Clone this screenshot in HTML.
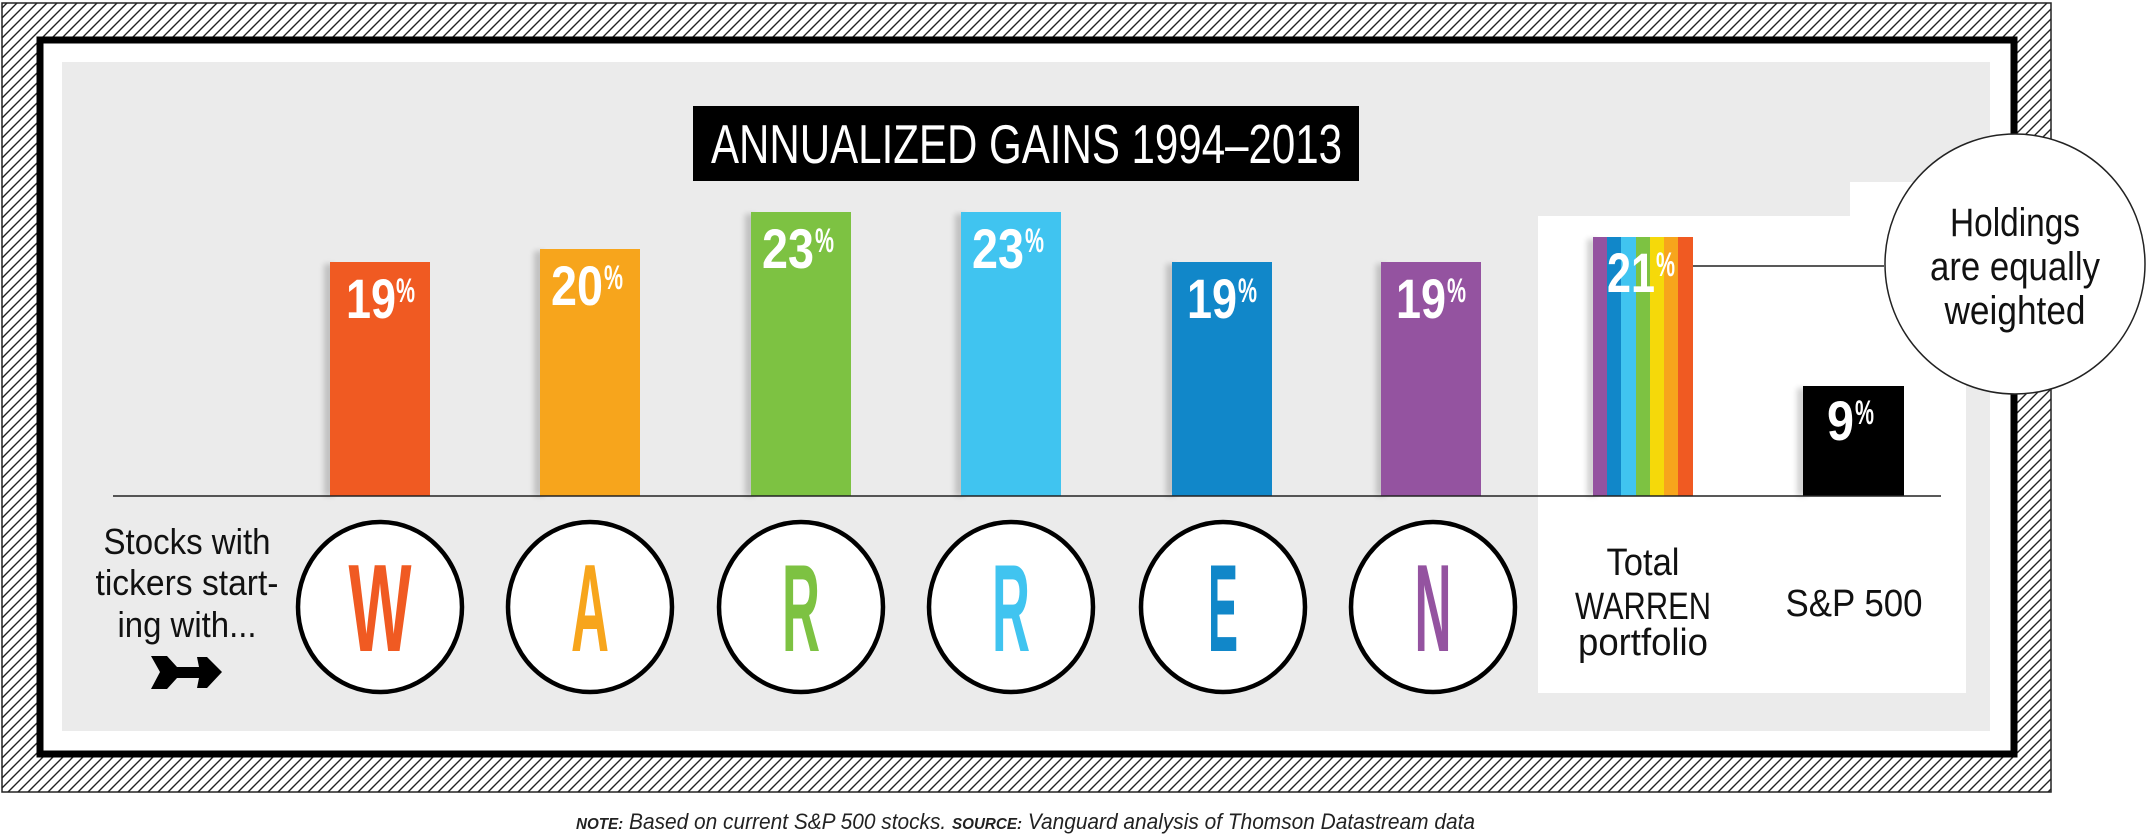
<!DOCTYPE html>
<html><head><meta charset="utf-8"><style>
html,body{margin:0;padding:0;background:#fff;}
svg{display:block;}
text{font-family:"Liberation Sans Narrow","Liberation Sans",sans-serif;}
</style></head><body>
<svg width="2149" height="836" viewBox="0 0 2149 836" xmlns="http://www.w3.org/2000/svg">
<defs>
<pattern id="h" patternUnits="userSpaceOnUse" width="10" height="10">
<path d="M-2,12 L12,-2 M-5,5 L5,-5 M5,15 L15,5" stroke="#222" stroke-width="1.4"/>
</pattern>
<filter id="sh" x="-20%" y="-5%" width="140%" height="110%"><feGaussianBlur stdDeviation="3"/></filter>
</defs>
<rect x="2" y="3" width="2049" height="789" fill="url(#h)" stroke="#222" stroke-width="1.5"/>
<rect x="40" y="40" width="1974" height="714" fill="#fff" stroke="#000" stroke-width="7"/>
<rect x="62" y="62" width="1928" height="669" fill="#ebebeb"/>
<rect x="1850" y="182" width="142" height="174" fill="#fff"/>
<rect x="1538" y="216" width="428" height="477" fill="#fff"/>
<!-- title -->
<rect x="693" y="106" width="666" height="75" fill="#000"/>
<text x="711" y="163" font-size="55" fill="#fff" textLength="631" lengthAdjust="spacingAndGlyphs">ANNUALIZED GAINS 1994–2013</text>
<!-- shadows -->
<g fill="#000" opacity="0.18" filter="url(#sh)">
<rect x="324" y="264" width="10" height="232"/><rect x="534" y="251" width="10" height="245"/>
<rect x="745" y="214" width="10" height="282"/><rect x="955" y="214" width="10" height="282"/>
<rect x="1166" y="264" width="10" height="232"/><rect x="1376" y="264" width="10" height="232"/>
<rect x="1587" y="239" width="10" height="257"/><rect x="1797" y="388" width="10" height="108"/>
</g>
<!-- bars -->
<rect x="330" y="262" width="100" height="234" fill="#f05a22"/>
<rect x="540" y="249" width="100" height="247" fill="#f7a51c"/>
<rect x="751" y="212" width="100" height="284" fill="#7dc242"/>
<rect x="961" y="212" width="100" height="284" fill="#40c4f0"/>
<rect x="1172" y="262" width="100" height="234" fill="#1187c9"/>
<rect x="1381" y="262" width="100" height="234" fill="#9453a0"/>
<g>
<rect x="1593" y="237" width="15" height="259" fill="#9453a0"/>
<rect x="1607" y="237" width="15" height="259" fill="#1187c9"/>
<rect x="1621" y="237" width="15" height="259" fill="#40c4f0"/>
<rect x="1636" y="237" width="15" height="259" fill="#7dc242"/>
<rect x="1650" y="237" width="15" height="259" fill="#f5d90a"/>
<rect x="1664" y="237" width="15" height="259" fill="#f7a51c"/>
<rect x="1678" y="237" width="15" height="259" fill="#f05a22"/>
</g>
<rect x="1803" y="386" width="101" height="110" fill="#000"/>
<!-- labels -->
<g fill="#fff" font-weight="bold">
<text x="346" y="318" font-size="56" textLength="50" lengthAdjust="spacingAndGlyphs">19</text><text x="396" y="302" font-size="34" textLength="19" lengthAdjust="spacingAndGlyphs">%</text>
<text x="551" y="305" font-size="56" textLength="52" lengthAdjust="spacingAndGlyphs">20</text><text x="604" y="289" font-size="34" textLength="19" lengthAdjust="spacingAndGlyphs">%</text>
<text x="762" y="268" font-size="56" textLength="52" lengthAdjust="spacingAndGlyphs">23</text><text x="815" y="252" font-size="34" textLength="19" lengthAdjust="spacingAndGlyphs">%</text>
<text x="972" y="268" font-size="56" textLength="52" lengthAdjust="spacingAndGlyphs">23</text><text x="1025" y="252" font-size="34" textLength="19" lengthAdjust="spacingAndGlyphs">%</text>
<text x="1187" y="318" font-size="56" textLength="50" lengthAdjust="spacingAndGlyphs">19</text><text x="1238" y="302" font-size="34" textLength="19" lengthAdjust="spacingAndGlyphs">%</text>
<text x="1396" y="318" font-size="56" textLength="50" lengthAdjust="spacingAndGlyphs">19</text><text x="1447" y="302" font-size="34" textLength="19" lengthAdjust="spacingAndGlyphs">%</text>
<text x="1607" y="292" font-size="56" textLength="48" lengthAdjust="spacingAndGlyphs">21</text><text x="1656" y="276" font-size="34" textLength="19" lengthAdjust="spacingAndGlyphs">%</text>
<text x="1827" y="440" font-size="56" textLength="27" lengthAdjust="spacingAndGlyphs">9</text><text x="1855" y="424" font-size="34" textLength="19" lengthAdjust="spacingAndGlyphs">%</text>
</g>
<!-- baseline and callout line -->
<line x1="113" y1="496" x2="1941" y2="496" stroke="#222" stroke-width="1.5"/>
<line x1="1693" y1="266" x2="1884" y2="266" stroke="#222" stroke-width="1.5"/>
<!-- callout circle -->
<circle cx="2015" cy="264" r="130" fill="#fff" stroke="#222" stroke-width="1.5"/>
<g font-size="40" fill="#111" text-anchor="middle">
<text x="2015" y="236" textLength="130" lengthAdjust="spacingAndGlyphs">Holdings</text>
<text x="2015" y="280" textLength="170" lengthAdjust="spacingAndGlyphs">are equally</text>
<text x="2015" y="324" textLength="141" lengthAdjust="spacingAndGlyphs">weighted</text>
</g>
<!-- letter circles -->
<g fill="#fff" stroke="#000" stroke-width="4.5">
<ellipse cx="380" cy="607" rx="82" ry="85"/><ellipse cx="590" cy="607" rx="82" ry="85"/><ellipse cx="801" cy="607" rx="82" ry="85"/>
<ellipse cx="1011" cy="607" rx="82" ry="85"/><ellipse cx="1223" cy="607" rx="82" ry="85"/><ellipse cx="1433" cy="607" rx="82" ry="85"/>
</g>
<g font-size="124" font-weight="bold" text-anchor="middle">
<text x="380" y="651" fill="#f05a22" textLength="63" lengthAdjust="spacingAndGlyphs">W</text>
<text x="590" y="651" fill="#f7a51c" textLength="38" lengthAdjust="spacingAndGlyphs">A</text>
<text x="801" y="651" fill="#7dc242" textLength="38" lengthAdjust="spacingAndGlyphs">R</text>
<text x="1011" y="651" fill="#40c4f0" textLength="38" lengthAdjust="spacingAndGlyphs">R</text>
<text x="1223" y="651" fill="#1187c9" textLength="30" lengthAdjust="spacingAndGlyphs">E</text>
<text x="1433" y="651" fill="#9453a0" textLength="37" lengthAdjust="spacingAndGlyphs">N</text>
</g>
<!-- left text -->
<g font-size="36" fill="#111" text-anchor="middle">
<text x="187" y="554" textLength="167" lengthAdjust="spacingAndGlyphs">Stocks with</text>
<text x="187" y="595" textLength="183" lengthAdjust="spacingAndGlyphs">tickers start-</text>
<text x="187" y="637" textLength="139" lengthAdjust="spacingAndGlyphs">ing with...</text>
</g>
<path d="M151,656 L167,656 L177,667 L199,667 L197,657 L207,657 L222,672 L207,688 L197,688 L199,678 L177,678 L167,689 L151,689 L160,672 Z" fill="#000"/>
<!-- bottom labels -->
<g font-size="38" fill="#111" text-anchor="middle">
<text x="1643" y="575" textLength="73" lengthAdjust="spacingAndGlyphs">Total</text>
<text x="1643" y="619" textLength="136" lengthAdjust="spacingAndGlyphs">WARREN</text>
<text x="1643" y="655" textLength="130" lengthAdjust="spacingAndGlyphs">portfolio</text>
<text x="1854" y="616" textLength="137" lengthAdjust="spacingAndGlyphs">S&amp;P 500</text>
</g>
<!-- footnote -->
<text x="576" y="829" font-size="22" font-style="italic" fill="#222" textLength="899" lengthAdjust="spacingAndGlyphs"><tspan font-weight="bold" font-size="16">NOTE:</tspan> Based on current S&amp;P 500 stocks. <tspan font-weight="bold" font-size="16">SOURCE:</tspan> Vanguard analysis of Thomson Datastream data</text>
</svg>
</body></html>
